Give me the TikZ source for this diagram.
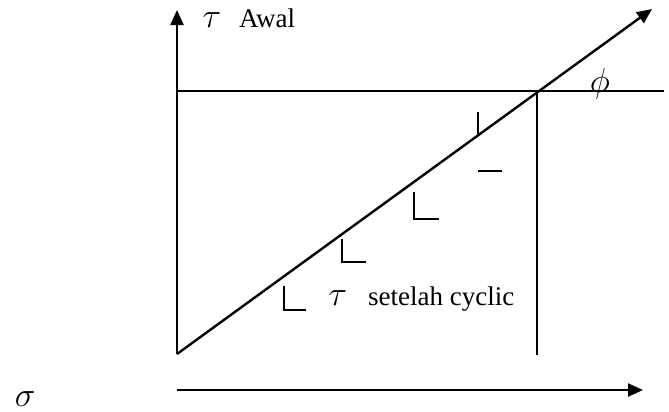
\documentclass[tikz,border=0pt]{standalone}
\usepackage{fontspec}
\setmainfont{Liberation Serif}
\usetikzlibrary{arrows.meta}

\begin{document}
\begin{tikzpicture}[x=0.5pt,y=-0.5pt,line width=1.2pt,
  font=\fontsize{13.5}{16}\selectfont,
  axarrow/.style={-{Triangle[length=7.5pt,width=6.5pt]}},
  lbl/.style={inner sep=0pt,anchor=base},
  greek/.style={lbl,font=\fontsize{17}{20}\selectfont}]
\useasboundingbox (0,0) rectangle (669,412);

% Key points of the diagram
\coordinate (O) at (177,354);
\coordinate (ytop) at (177,10);
\coordinate (hl) at (177,91);
\coordinate (hr) at (664,91);
\coordinate (P) at (537,91);
\coordinate (Pb) at (537,355);
\coordinate (dtop) at (652,9);
\coordinate (xl) at (177,390);
\coordinate (xr) at (643,390);

% Axes and lines
\draw[axarrow] (O) -- (ytop);
\draw (hl) -- (hr);
\draw (P) -- (Pb);
\draw[axarrow] (O) -- (dtop);
\draw[axarrow] (xl) -- (xr);

% Small step marks along the line
\foreach \x/\ya/\yb/\w in {284/286/310/22, 342/239/262/24, 414/192/219/25} {
  \draw (\x,\ya) -- (\x,\yb) -- ++(\w,0);
}
\draw (478,112) -- (478,135);
\draw (478,171) -- (502,171);

% Labels
\node[greek] (tauA) at (212,27) {$\tau$};
\node[lbl,anchor=base west] (awal) at (238,27) {Awal};
\node[greek] (phi) at (600,92) {$\phi$};
\node[greek] (tauB) at (338,305) {$\tau$};
\node[lbl,anchor=base west] (setelah) at (367,305) {setelah cyclic};
\node[greek] (sigma) at (25,406) {$\sigma$};
\end{tikzpicture}
\end{document}
